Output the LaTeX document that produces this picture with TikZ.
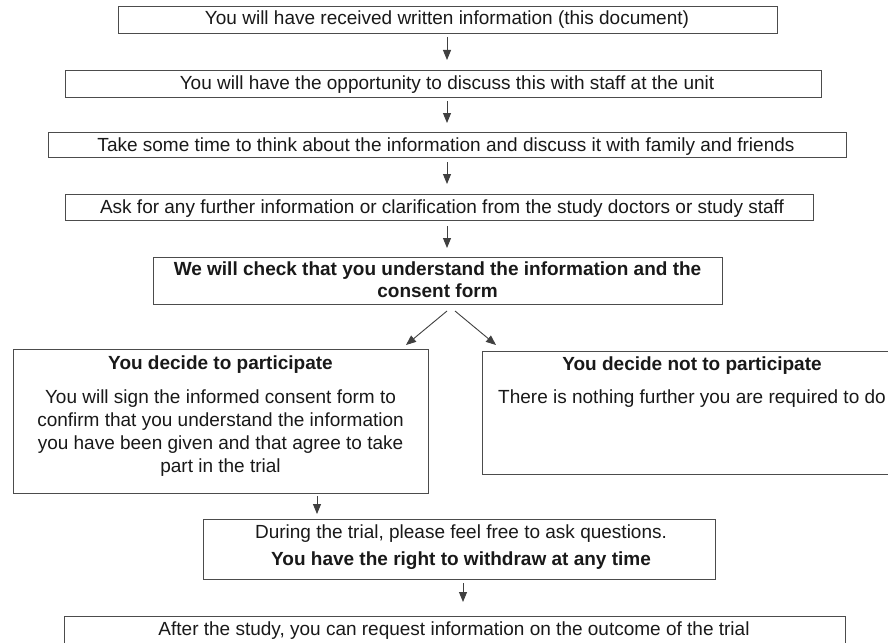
\documentclass[tikz,border=0pt]{standalone}
\usepackage{fontspec}
\setmainfont{Liberation Sans}
\usetikzlibrary{arrows.meta}
\tikzset{
  box/.style={draw=black!70, line width=0.9pt, inner sep=0pt, outer sep=0pt},
  lbl/.style={font=\fontsize{19}{23}\selectfont, text=black!90, inner sep=0pt, anchor=base},
  blbl/.style={lbl, font=\fontsize{19}{23}\selectfont\bfseries},
  arr/.style={draw=black!75, line width=0.9pt, -{Triangle[length=10pt,width=8pt]}},
}
\begin{document}
\begin{tikzpicture}[x=1pt,y=-1pt]
\clip (0,0) rectangle (888,642);
\fill[white] (0,0) rectangle (888,642);
% boxes (corners in px, y downward)
\node[box, minimum width=659pt, minimum height=27pt] (b1) at (447.5,19.5) {};
\node[box, minimum width=756pt, minimum height=27pt] (b2) at (443,83.5) {};
\node[box, minimum width=798pt, minimum height=25pt] (b3) at (447,144.5) {};
\node[box, minimum width=748pt, minimum height=26pt] (b4) at (439,207) {};
\node[box, minimum width=569pt, minimum height=47pt] (b5) at (437.5,280.5) {};
\node[box, minimum width=415pt, minimum height=144pt] (bl) at (220.5,421) {};
\node[box, minimum width=415pt, minimum height=123pt] (br) at (689.5,412.5) {};
\node[box, minimum width=512pt, minimum height=60pt] (b6) at (459,549) {};
\node[box, minimum width=781pt, minimum height=44pt] (b7) at (454.5,638) {};
% texts
\node[lbl] (t1) at (447,25) {You will have received written information (this document)};
\node[lbl] (t2) at (447,89) {You will have the opportunity to discuss this with staff at the unit};
\node[lbl] (t3) at (446,151) {Take some time to think about the information and discuss it with family and friends};
\node[lbl] (t4) at (442,213) {Ask for any further information or clarification from the study doctors or study staff};
\node[blbl] (t5a) at (437.5,275) {We will check that you understand the information and the};
\node[blbl] (t5b) at (437.5,297) {consent form};
\node[blbl] (tl0) at (220.5,369) {You decide to participate};
\node[lbl] (tl1) at (220.5,403) {You will sign the informed consent form to};
\node[lbl] (tl2) at (220.5,426) {confirm that you understand the information};
\node[lbl] (tl3) at (220.5,449) {you have been given and that agree to take};
\node[lbl] (tl4) at (220.5,472) {part in the trial};
\node[blbl] (tr0) at (692,370) {You decide not to participate};
\node[lbl] (tr1) at (692,403) {There is nothing further you are required to do};
\node[lbl] (t6a) at (461,538) {During the trial, please feel free to ask questions.};
\node[blbl] (t6b) at (461,565) {You have the right to withdraw at any time};
\node[lbl] (t7) at (454,635) {After the study, you can request information on the outcome of the trial};
% arrow anchors
\coordinate (col) at (447,0);
\coordinate (d1s) at (447,311);
\coordinate (d1e) at (406,345);
\coordinate (d2s) at (455,311);
\coordinate (d2e) at (496,345);
\coordinate (c6) at (317,0);
\coordinate (c7) at (463,0);
% arrows
\draw[arr, shorten <=4pt, shorten >=10pt] (b1.south -| col) -- (b2.north -| col);
\draw[arr, shorten <=4pt, shorten >=9pt] (b2.south -| col) -- (b3.north -| col);
\draw[arr, shorten <=5pt, shorten >=10pt] (b3.south -| col) -- (b4.north -| col);
\draw[arr, shorten <=6pt, shorten >=9pt] (b4.south -| col) -- (b5.north -| col);
\draw[arr] (d1s) -- (d1e);
\draw[arr] (d2s) -- (d2e);
\draw[arr, shorten <=3pt, shorten >=5pt] (bl.south -| c6) -- (b6.north -| c6);
\draw[arr, shorten <=4pt, shorten >=14pt] (b6.south -| c7) -- (b7.north -| c7);
\end{tikzpicture}
\end{document}
